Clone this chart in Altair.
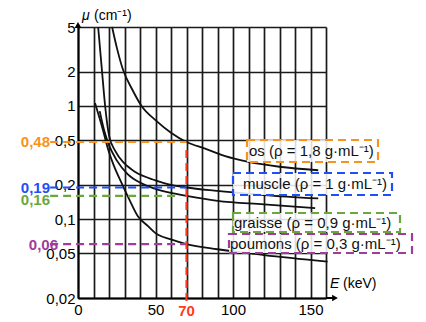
import altair as alt
import pandas as pd

# --- curve data (E in keV, mu in cm^-1) ---
os_E = [22, 25, 29, 35, 41, 50, 60, 70, 82, 95, 110, 130, 155]
os_mu = [5.0, 3.3, 2.1, 1.4, 1.0, 0.75, 0.58, 0.48, 0.42, 0.36, 0.32, 0.29, 0.27]
muscle_E = [13, 15.4, 17.5, 20, 24, 30, 37, 50, 60, 70, 88, 120, 155]
muscle_mu = [5.0, 2.1, 1.0, 0.55, 0.4, 0.31, 0.26, 0.22, 0.2, 0.19, 0.178, 0.163, 0.152]
graisse_E = [14, 17, 20, 25, 32, 40, 50, 60, 70, 90, 120, 153]
graisse_mu = [0.9, 0.6, 0.45, 0.33, 0.25, 0.21, 0.185, 0.17, 0.16, 0.145, 0.135, 0.125]
poumons_E = [11, 16, 19.5, 23, 28, 33, 39, 45, 50, 60, 70, 90, 120, 161]
poumons_mu = [1.06, 0.62, 0.41, 0.3, 0.21, 0.15, 0.104, 0.087, 0.075, 0.066, 0.06, 0.054, 0.048, 0.042]

# read values at E = 70 keV
read_E = 70
read_values = [0.48, 0.19, 0.16, 0.06]
read_labels = ["0,48", "0,19", "0,16", "0,06"]
read_colors = ["#F7931E", "#1F4FF5", "#6AA83F", "#A03C9C"]

legend_texts = ["os (ρ = 1,8 g·mL⁻¹)", "muscle (ρ = 1 g·mL⁻¹)",
                "graisse (ρ = 0,9 g·mL⁻¹)", "poumons (ρ = 0,3 g·mL⁻¹)"]

y_ticks = [0.02, 0.05, 0.1, 0.2, 0.5, 1, 2, 5]
x_ticks = list(range(0, 161, 10))

FONT = "Liberation Sans"
W, H = 248, 271

rows = []
for name, E, M in [("os", os_E, os_mu), ("muscle", muscle_E, muscle_mu),
                    ("graisse", graisse_E, graisse_mu), ("poumons", poumons_E, poumons_mu)]:
    for e, m in zip(E, M):
        rows.append({"mat": name, "E": e, "mu": m})
curves_df = pd.DataFrame(rows)

xscale = alt.Scale(domain=[0, 160], nice=False)
yscale = alt.Scale(type="log", domain=[0.02, 5], nice=False)
xaxis = alt.Axis(
    values=x_ticks, title=None, grid=True, gridColor="#1a1a1a", gridWidth=1.7,
    ticks=False, domainColor="#000", domainWidth=2, labelFontSize=15, labelFont=FONT,
    labelColor="#000", labelPadding=4, labelOverlap=False, labelFlush=False,
    labelExpr="datum.value % 50 == 0 ? datum.label : ''")
yaxis = alt.Axis(
    values=y_ticks, title=None, grid=True, gridColor="#1a1a1a", gridWidth=1.7,
    ticks=False, domainColor="#000", domainWidth=2, labelFontSize=15, labelFont=FONT,
    labelColor="#000", labelPadding=3, labelOverlap=False, labelFlush=False,
    labelExpr="replace(toString(datum.value), '.', ',')")

curves = alt.Chart(curves_df).mark_line(color="#111", strokeWidth=1.8, interpolate="monotone").encode(
    x=alt.X("E:Q", scale=xscale, axis=xaxis),
    y=alt.Y("mu:Q", scale=yscale, axis=yaxis),
    detail="mat:N",
)

# dashed horizontal reading lines
xs_end = [70, 70, 64.5, 70]
hl_df = pd.DataFrame({"v": read_values, "c": read_colors, "x0": [-18] * 4, "x1": xs_end})
hlines = alt.Chart(hl_df).mark_rule(strokeDash=[8, 5], strokeWidth=2.2, clip=False).encode(
    x=alt.X("x0:Q", scale=xscale, axis=xaxis), x2="x1:Q",
    y=alt.Y("v:Q", scale=yscale, axis=yaxis),
    color=alt.Color("c:N", scale=None),
)

vline = alt.Chart(pd.DataFrame({"E": [read_E]})).mark_rule(
    color="#FF3B1F", strokeDash=[8, 5], strokeWidth=2.2, clip=False).encode(
    x=alt.X("E:Q", scale=xscale, axis=xaxis), y=alt.value(123), y2=alt.value(274))

lbl_df = pd.DataFrame({"v": read_values, "t": read_labels, "c": read_colors,
                       "px": [50 - 78, 50 - 78, 50 - 78, 58 - 78], "dy": [0, 0, 4, 1]})
lbls = []
for i in range(4):
    lbls.append(alt.Chart(lbl_df.iloc[[i]]).mark_text(
        font=FONT, fontSize=15, fontWeight="bold", align="right", baseline="middle",
        dy=float(lbl_df.dy[i])).encode(
        x=alt.X("px:Q", scale=None), y=alt.Y("v:Q", scale=yscale, axis=yaxis),
        text="t:N", color=alt.Color("c:N", scale=None)))

lbl70 = alt.Chart(pd.DataFrame({"E": [read_E], "t": ["70"]})).mark_text(
    font=FONT, fontSize=15, fontWeight="bold", color="#FF3B1F", baseline="middle").encode(
    x=alt.X("E:Q", scale=xscale, axis=xaxis), y=alt.value(284), text="t:N")

# legend boxes (pixel positions in plot area)
box_df = pd.DataFrame({
    "x0": [169, 155, 155, 151], "x1": [300, 314, 322, 334],
    "y0": [113, 146, 186, 207], "y1": [135, 168, 205, 226],
    "tx": [171, 165, 156, 152], "c": read_colors, "t": legend_texts,
})
box_df["ty"] = (box_df.y0 + box_df.y1) / 2
boxes = alt.Chart(box_df).mark_rect(fill="white", fillOpacity=0.85, strokeDash=[8, 5],
                                    strokeWidth=2.2, clip=False).encode(
    x=alt.X("x0:Q", scale=None), x2="x1:Q", y=alt.Y("y0:Q", scale=None), y2="y1:Q",
    stroke=alt.Stroke("c:N", scale=None))
box_text = alt.Chart(box_df).mark_text(font=FONT, fontSize=15, align="left", baseline="middle",
                                       color="#111").encode(
    x=alt.X("tx:Q", scale=None), y=alt.Y("ty:Q", scale=None), text="t:N")

# axis titles and arrows
t_mu = alt.Chart(pd.DataFrame({"t": ["μ"]})).mark_text(
    font=FONT, fontSize=14, fontStyle="italic", align="left", baseline="middle").encode(
    x=alt.value(4), y=alt.value(-11), text="t:N")
t_mu2 = alt.Chart(pd.DataFrame({"t": ["(cm⁻¹)"]})).mark_text(
    font=FONT, fontSize=14, align="left", baseline="middle").encode(
    x=alt.value(16), y=alt.value(-11), text="t:N")
t_E = alt.Chart(pd.DataFrame({"t": ["E"]})).mark_text(
    font=FONT, fontSize=14, fontStyle="italic", align="left", baseline="middle").encode(
    x=alt.value(252), y=alt.value(257), text="t:N")
t_E2 = alt.Chart(pd.DataFrame({"t": ["(keV)"]})).mark_text(
    font=FONT, fontSize=14, align="left", baseline="middle").encode(
    x=alt.value(265), y=alt.value(257), text="t:N")

xline = alt.Chart(pd.DataFrame({"a": [0]})).mark_rule(color="#000", strokeWidth=2, clip=False).encode(
    x=alt.value(W), x2=alt.value(W + 8), y=alt.value(H))
arrow_up = alt.Chart(pd.DataFrame({"a": [0]})).mark_point(
    shape="triangle-up", size=45, filled=True, color="#000", opacity=1).encode(
    x=alt.value(0), y=alt.value(-2))
arrow_right = alt.Chart(pd.DataFrame({"a": [0]})).mark_point(
    shape="triangle-right", size=45, filled=True, color="#000", opacity=1).encode(
    x=alt.value(W + 9), y=alt.value(H))

chart = alt.layer(
    curves, hlines, vline, *lbls, lbl70, boxes, box_text,
    t_mu, t_mu2, t_E, t_E2, xline, arrow_up, arrow_right,
).properties(
    width=W, height=H,
    autosize=alt.AutoSizeParams(type="none"),
    padding={"left": 70, "top": 19, "right": 92, "bottom": 24},
).configure_view(stroke=None).configure(background="white")

chart.save("out.html", embed_options={"renderer": "svg", "actions": False})
